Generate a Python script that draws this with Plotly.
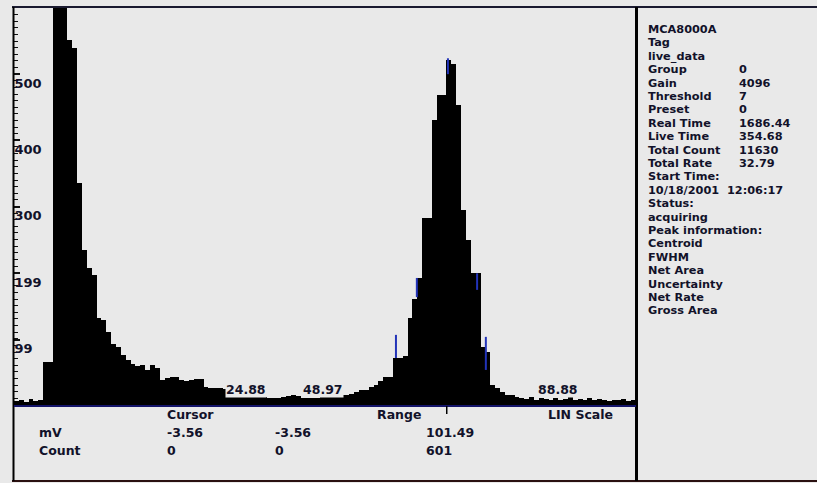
import plotly.graph_objects as go

W, H = 817, 483
BG = "#e9e9e9"
INK = "#12122a"
FONT = "DejaVu Sans"

# ---- spectrum data: counts per display channel (128 channels) ----
counts = [
    6, 8, 5, 9, 6, 8, 65, 65, 1340, 1120,
    880, 552, 539, 335, 234, 207, 196, 131, 128, 110,
    92, 88, 76, 68, 62, 59, 60, 53, 60, 56,
    38, 41, 42, 42, 38, 36, 38, 39, 39, 27,
    26, 26, 26, 24, 23, 23, 20, 18, 18, 14,
    12, 12, 11, 11, 11, 12, 14, 15, 14, 11,
    11, 11, 11, 12, 12, 12, 14, 15, 15, 17,
    20, 23, 23, 27, 30, 36, 42, 42, 71, 71,
    74, 131, 160, 192, 283, 283, 431, 468, 468, 521,
    515, 453, 295, 249, 199, 199, 88, 80, 30, 26,
    20, 15, 15, 12, 11, 9, 12, 8, 10, 9,
    7, 11, 8, 9, 12, 7, 9, 8, 11, 7,
    9, 8, 6, 8, 7, 9, 6, 7,
]
channels = [i + 0.5 for i in range(len(counts))]

# region-of-interest markers (channel, low count, high count)
roi_ch = [78.6, 82.9, 89.3, 95.3, 97.1]
roi_lo = [71, 163, 500, 174, 53]
roi_hi = [106, 192, 524, 199, 103]

# mV labels shown along the spectrum floor
mv_labels = ["24.88", "48.97", "88.88"]
mv_label_ch = [47.7, 63.6, 112.0]
mv_label_y = 24

# y-axis tick labels as printed by the analyser
y_ticks = [99, 199, 300, 400, 500]

# status bar
cursor_ch = 89.05
status_rows = [
    ("mV", "-3.56", "-3.56", "101.49"),
    ("Count", "0", "0", "601"),
]

# info panel
info_lines = [
    ("MCA8000A", ""), ("Tag", ""), ("live_data", ""),
    ("Group", "0"), ("Gain", "4096"), ("Threshold", "7"), ("Preset", "0"),
    ("Real Time", "1686.44"), ("Live Time", "354.68"),
    ("Total Count", "11630"), ("Total Rate", "32.79"),
    ("Start Time:", ""), ("10/18/2001  12:06:17", ""),
    ("Status:", ""), ("acquiring", ""), ("Peak information:", ""),
    ("Centroid", ""), ("FWHM", ""), ("Net Area", ""), ("Uncertainty", ""),
    ("Net Rate", ""), ("Gross Area", ""),
]


def px(x):
    return x / W


def py(y):
    return 1 - y / H


fig = go.Figure()

fig.add_trace(go.Bar(
    x=channels, y=counts, width=1.0,
    marker=dict(color="black", line=dict(width=0)),
    hoverinfo="skip",
))

# ROI marker strokes
rx, ry = [], []
for c, lo, hi in zip(roi_ch, roi_lo, roi_hi):
    rx += [c, c, None]
    ry += [lo, hi, None]
fig.add_trace(go.Scatter(x=rx, y=ry, mode="lines",
                         line=dict(color="#2233b8", width=2),
                         hoverinfo="skip"))

annotations = []


def label(text, x, y, anchor="left", size=12.5, xref="paper", yref="paper",
          bg=None):
    annotations.append(dict(
        text=text, x=x, y=y, xref=xref, yref=yref,
        xanchor=anchor, yanchor="middle", showarrow=False,
        font=dict(family=FONT, size=size, color=INK, weight="bold"),
        bgcolor=bg, borderpad=0,
    ))


for t, c in zip(mv_labels, mv_label_ch):
    label(t, c, mv_label_y, anchor="center", xref="x", yref="y", bg=BG)

# status bar headings and rows
label("Cursor", px(166), py(414))
label("Range", px(376), py(414))
label("LIN Scale", px(547), py(414))
col_x = [38, 166, 274, 425]
for r, row in enumerate(status_rows):
    yy = 432 + 18 * r
    for cx, t in zip(col_x, row):
        label(t, px(cx), py(yy))

# info panel text
INFO_SIZE = 11.3
for k, (name, val) in enumerate(info_lines):
    yy = 29.5 + 13.4 * k
    label(name, px(647), py(yy), size=INFO_SIZE)
    if val:
        label(val, px(738), py(yy), size=INFO_SIZE)

shapes = [
    # top border
    dict(type="line", xref="paper", yref="paper",
         x0=px(12), x1=1, y0=py(7), y1=py(7),
         line=dict(color="#1a1a30", width=2)),
    # bottom border
    dict(type="line", xref="paper", yref="paper",
         x0=px(12), x1=1, y0=py(481), y1=py(481),
         line=dict(color="#2a1010", width=2)),
    # left border
    dict(type="line", xref="paper", yref="paper",
         x0=px(13.5), x1=px(13.5), y0=py(7), y1=py(481),
         line=dict(color="black", width=2)),
    # separator between spectrum and info panel
    dict(type="line", xref="paper", yref="paper",
         x0=px(636.5), x1=px(636.5), y0=py(7), y1=py(481),
         line=dict(color="black", width=3)),
    # spectrum floor
    dict(type="line", xref="paper", yref="paper",
         x0=px(14), x1=px(636), y0=py(406), y1=py(406),
         line=dict(color="#14146a", width=2)),
    # cursor marker under the floor
    dict(type="line", xref="x", yref="paper",
         x0=cursor_ch, x1=cursor_ch, y0=py(406), y1=py(414),
         line=dict(color="black", width=1.5)),
]

fig.update_layout(
    width=W, height=H,
    margin=dict(l=0, r=0, t=0, b=0),
    paper_bgcolor=BG, plot_bgcolor=BG,
    showlegend=False, bargap=0,
    annotations=annotations, shapes=shapes,
    xaxis=dict(domain=[px(14), px(636)], range=[0, len(counts)],
               visible=False, fixedrange=True),
    yaxis=dict(domain=[py(405), py(8)], range=[0, 600],
               showgrid=False, zeroline=False, showline=False,
               tickmode="array", tickvals=y_ticks,
               ticktext=[str(v) for v in y_ticks],
               ticks="inside", ticklen=6, tickwidth=1.5, tickcolor="#111",
               ticklabelposition="inside", ticklabelstandoff=-6,
               ticklabelshift=9,
               tickfont=dict(family=FONT, size=13, color=INK, weight="bold"),
               minor=dict(tickmode="linear", tick0=0, dtick=10,
                          ticks="inside", ticklen=4, tickwidth=1,
                          tickcolor="#111"),
               fixedrange=True),
)

fig.write_html("out.html")
